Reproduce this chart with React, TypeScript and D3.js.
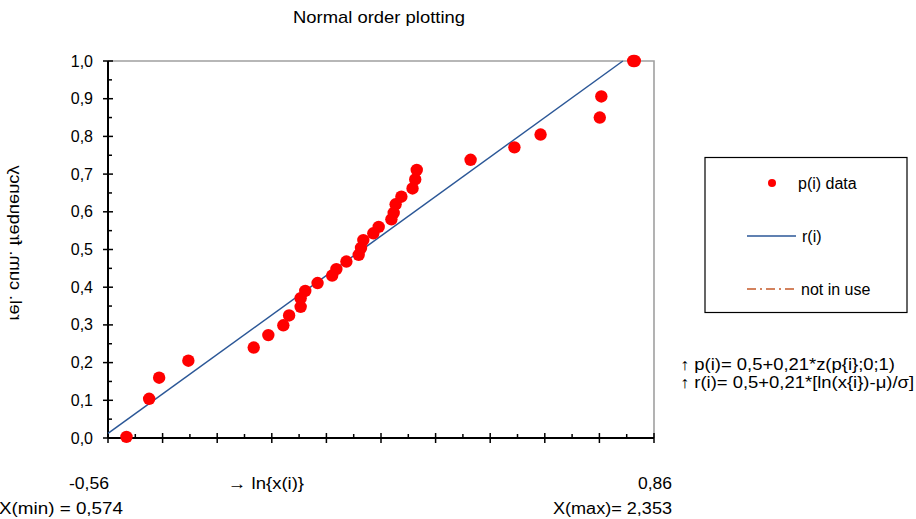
import * as d3 from "d3";

// ln{x(i)} and plotting position p(i)
const lnX = [
  -0.512, -0.453, -0.427, -0.351, -0.181, -0.143, -0.104, -0.089, -0.059, -0.059,
  -0.047, -0.015, 0.023, 0.034, 0.06, 0.092, 0.098, 0.104, 0.13, 0.144,
  0.177, 0.183, 0.188, 0.203, 0.232, 0.239, 0.243, 0.383, 0.497, 0.565,
  0.719, 0.723, 0.806, 0.81,
];
const pData = [
  0.003, 0.104, 0.16, 0.205, 0.24, 0.273, 0.299, 0.325, 0.348, 0.371,
  0.39, 0.411, 0.431, 0.448, 0.468, 0.486, 0.504, 0.525, 0.543, 0.56,
  0.58, 0.597, 0.62, 0.64, 0.662, 0.686, 0.711, 0.738, 0.771, 0.805,
  0.85, 0.906, 1.0, 1.0,
];

// fitted line r(i), endpoints
const rLnX = [-0.56, 0.779];
const rVal = [0.012, 1.0];

const yTicks = [0, 0.1, 0.2, 0.3, 0.4, 0.5, 0.6, 0.7, 0.8, 0.9, 1.0];
const xDomain = [-0.56, 0.86];

const W = 916;
const H = 519;
const margin = { top: 61, right: 262, bottom: 81, left: 108 };
const font = "'Liberation Sans', Arial, sans-serif";

const App = () => {
  const x = d3
    .scaleLinear()
    .domain(xDomain)
    .range([margin.left, W - margin.right]);
  const y = d3
    .scaleLinear()
    .domain([0, 1])
    .range([H - margin.bottom, margin.top]);

  const x0 = x.range()[0];
  const x1 = x.range()[1];
  const y0 = y.range()[0];
  const y1 = y.range()[1];

  const xStep = (xDomain[1] - xDomain[0]) / 10;
  const xMajor = d3.range(11).map((i) => xDomain[0] + i * xStep);
  const xMinor = d3.range(10).map((i) => xDomain[0] + (i + 0.5) * xStep);
  const yMinor = d3.range(10).map((i) => (i + 0.5) / 10);

  const fmt = (v: number) => d3.format(".1f")(v).replace(".", ",");

  const line = d3
    .line<number>()
    .x((d) => x(d))
    .y((d, i) => y(rVal[i]));

  return (
    <svg
      width={W}
      height={H}
      style={{ position: "absolute", left: 0, top: 0, fontFamily: font }}
    >
      <rect width={W} height={H} fill="#fff" />
      <text
        x={379}
        y={23}
        textAnchor="middle"
        fontSize={17}
        textLength={172}
        lengthAdjust="spacingAndGlyphs"
      >
        Normal  order  plotting
      </text>

      {/* plot frame */}
      <path d={`M${x0},${y1}H${x1}V${y0}`} fill="none" stroke="#a0a0a0" strokeWidth={1.6} />
      <line x1={x0} x2={x0} y1={y1} y2={y0} stroke="#000" strokeWidth={2} />
      <line x1={x0} x2={x1} y1={y0} y2={y0} stroke="#000" strokeWidth={2} />

      {yTicks.map((t) => (
        <g key={t}>
          <line x1={x0 - 5} x2={x0 + 5} y1={y(t)} y2={y(t)} stroke="#000" strokeWidth={1.5} />
          <text x={93} y={y(t) + 5.5} textAnchor="end" fontSize={16}>
            {fmt(t)}
          </text>
        </g>
      ))}
      {yMinor.map((t) => (
        <line key={t} x1={x0} x2={x0 + 4} y1={y(t)} y2={y(t)} stroke="#000" strokeWidth={1.5} />
      ))}
      {xMajor.map((t, i) => (
        <line key={i} x1={x(t)} x2={x(t)} y1={y0 - 5} y2={y0 + 5} stroke="#000" strokeWidth={1.5} />
      ))}
      {xMinor.map((t, i) => (
        <line key={i} x1={x(t)} x2={x(t)} y1={y0 - 4} y2={y0} stroke="#000" strokeWidth={1.5} />
      ))}

      <path d={line(rLnX) ?? ""} fill="none" stroke="#2b5797" strokeWidth={1.5} />

      {lnX.map((v, i) => (
        <circle key={i} cx={x(v)} cy={y(pData[i])} r={6.2} fill="#ff0000" />
      ))}

      {/* axis title, drawn mirrored as in the original */}
      <text
        transform="translate(10,243) scale(-1,1) rotate(-90)"
        textAnchor="middle"
        fontSize={16}
        textLength={155}
        lengthAdjust="spacingAndGlyphs"
      >
        rel. cum.  frequency
      </text>

      <text x={89} y={489} textAnchor="middle" fontSize={16} textLength={40} lengthAdjust="spacingAndGlyphs">
        -0,56
      </text>
      <text x={228} y={489} fontSize={16} textLength={76} lengthAdjust="spacingAndGlyphs">
        → ln{"{x(i)}"}
      </text>
      <text x={672} y={489} textAnchor="end" fontSize={16} textLength={34} lengthAdjust="spacingAndGlyphs">
        0,86
      </text>
      <text x={123} y={514} textAnchor="end" fontSize={16} textLength={124} lengthAdjust="spacingAndGlyphs">
        X(min) = 0,574
      </text>
      <text x={672} y={514} textAnchor="end" fontSize={16} textLength={119} lengthAdjust="spacingAndGlyphs">
        X(max)= 2,353
      </text>

      {/* legend */}
      <rect x={705} y={157.5} width={202} height={155} fill="#fff" stroke="#000" strokeWidth={1.2} />
      <circle cx={772} cy={183} r={4} fill="#ff0000" />
      <text x={798} y={188.5} fontSize={16}>
        p(i) data
      </text>
      <line x1={747} x2={796} y1={236} y2={236} stroke="#2b5797" strokeWidth={1.5} />
      <text x={802} y={241.5} fontSize={16}>
        r(i)
      </text>
      <line
        x1={747}
        x2={796}
        y1={289}
        y2={289}
        stroke="#c55a28"
        strokeWidth={1.5}
        strokeDasharray="9 4 2 4"
      />
      <text x={801} y={294.5} fontSize={16}>
        not in use
      </text>

      <text x={680} y={370} fontSize={16} textLength={215} lengthAdjust="spacingAndGlyphs">
        ↑ p(i)= 0,5+0,21*z(p{"{i}"};0;1)
      </text>
      <text x={680} y={388} fontSize={16} textLength={234} lengthAdjust="spacingAndGlyphs">
        ↑ r(i)= 0,5+0,21*[ln(x{"{i}"})-μ)/σ]
      </text>
    </svg>
  );
};

export default App;
